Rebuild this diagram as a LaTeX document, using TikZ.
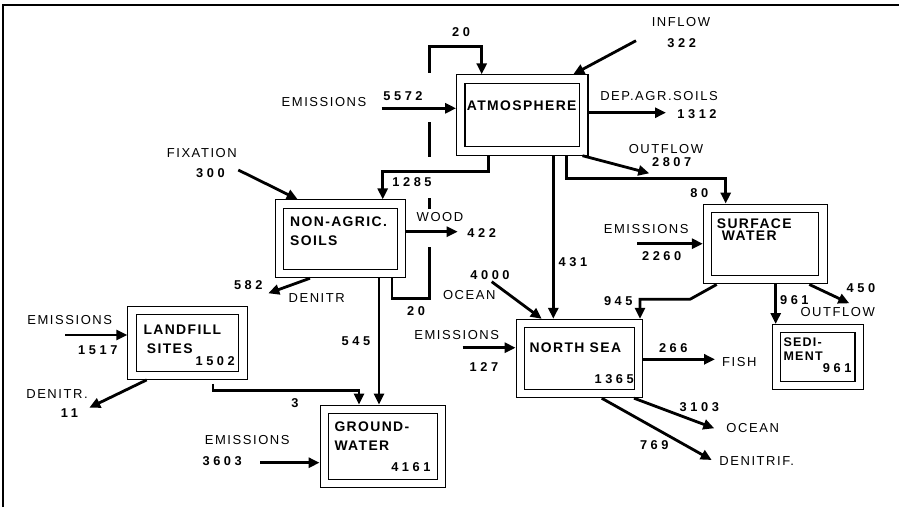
\documentclass[tikz,border=0pt]{standalone}
\usepackage{fontspec}
\setmainfont{Liberation Sans}
\newfontfamily\lblfont[LetterSpace=12]{Liberation Sans}
\newfontfamily\numfont[LetterSpace=28]{Liberation Sans}
\newfontfamily\boxfont[LetterSpace=10]{Liberation Sans}
\usepackage{tikz}
\usetikzlibrary{arrows.meta,positioning}

\begin{document}
\begin{tikzpicture}[
  x=1pt,y=-1pt,
  sbox/.style={draw, double, line width=1.1pt, double distance=7.2pt, inner sep=0pt, outer sep=4.7pt},
  flow/.style={line width=2.8pt, -{Triangle[length=11pt,width=10pt]}},
  pipe/.style={line width=2.8pt},
  lbl/.style={font=\lblfont\fontsize{13}{15}\selectfont, inner sep=0pt},
  num/.style={font=\numfont\bfseries\fontsize{12.8}{14}\selectfont, inner sep=0pt},
  ttl/.style={font=\boxfont\bfseries\fontsize{13.9}{15}\selectfont, inner sep=0pt, anchor=west}
]
\useasboundingbox (0,0) rectangle (899,514);
\draw[line width=1.2pt] (3,507) -- (3,5) -- (899,5);

\node[sbox, minimum width=123pt, minimum height=72pt] (atm) at (522.3,115) {};
\node[sbox, minimum width=122pt, minimum height=69.5pt] (soil) at (340.7,238.8) {};
\node[sbox, minimum width=111pt, minimum height=65pt] (lfill) at (187.5,342.7) {};
\node[sbox, minimum width=117.5pt, minimum height=74pt] (gw) at (383,446.3) {};
\node[sbox, minimum width=118pt, minimum height=70pt] (nsea) at (579.3,358.5) {};
\node[sbox, minimum width=115.5pt, minimum height=71.5pt] (surf) at (765.3,244) {};
\node[sbox, minimum width=82.8pt, minimum height=57pt] (sed) at (817.7,357.2) {};

\node[ttl, anchor=center] (atm-t) at (521.7,106) {ATMOSPHERE};
\node[ttl] (soil-t1) at (290,221.7) {NON-AGRIC.};
\node[ttl] (soil-t2) at (290,240.7) {SOILS};
\node[ttl] (lfill-t1) at (143.3,329.3) {LANDFILL};
\node[ttl] (lfill-t2) at (146.7,348.3) {SITES};
\node[num, anchor=east] (lfill-n) at (235,361) {1502};
\node[ttl] (gw-t1) at (334.3,426.7) {GROUND-};
\node[ttl] (gw-t2) at (334.3,446) {WATER};
\node[num, anchor=east] (gw-n) at (430.7,466.7) {4161};
\node[ttl] (nsea-t) at (529.3,347.7) {NORTH SEA};
\node[num, anchor=east] (nsea-n) at (634,379) {1365};
\node[ttl] (surf-t1) at (716.7,223.3) {SURFACE};
\node[ttl] (surf-t2) at (721.7,236) {WATER};
\node[ttl, font=\boxfont\bfseries\fontsize{12.5}{14}\selectfont] (sed-t1) at (783.3,341.7) {SEDI-};
\node[ttl, font=\boxfont\bfseries\fontsize{12.5}{14}\selectfont] (sed-t2) at (783.3,355.7) {MENT};
\node[num, anchor=east] (sed-n) at (851.7,368.3) {961};

\coordinate (emis1) at (381.7,108.3);
\coordinate (inflow) at (636,40.7);
\coordinate (dep) at (666,112.7);
\coordinate (outfl1) at (649.3,173.3);
\coordinate (fix) at (238.3,170);
\coordinate (wood) at (457.7,231.7);
\coordinate (denit1) at (268.3,293.3);
\coordinate (emis2) at (65,335);
\coordinate (denit2) at (89.3,407.7);
\coordinate (emis3) at (260,462.7);
\coordinate (ocean1) at (491.7,281.7);
\coordinate (emis4) at (462.7,347.7);
\coordinate (emis5) at (637,243.7);
\coordinate (bend945) at (690,299.3);
\coordinate (outfl2) at (849.3,303.3);
\coordinate (fish) at (715,359.3);
\coordinate (ocean2) at (714.3,428.3);
\coordinate (denit3) at (711.7,460);
\coordinate (p1) at (429.5,246.7);
\coordinate (p2) at (429.5,209);
\coordinate (p3) at (429.5,197.7);
\coordinate (p4) at (429.5,156.7);
\coordinate (p5) at (429.5,121.7);
\coordinate (p6) at (429.5,72.7);
\coordinate (a431) at ([xshift=31pt]atm.south);
\coordinate (s545) at ([xshift=38.3pt]soil.south);
\coordinate (s961) at ([xshift=10.4pt]surf.south);

\draw[flow] (emis1) -- (emis1 -| atm.west);
\draw[flow] (inflow) -- ([xshift=51pt]atm.north);
\draw[flow] (dep -| atm.east) -- (dep);
\draw[flow] ([xshift=-6pt]atm.south east) -- (outfl1);
\draw[flow] ([xshift=-34pt]atm.south) -- ++(0,16) -| ([xshift=42pt]soil.north);
\draw[flow] (a431) -- (a431 |- nsea.north);
\draw[flow] ([xshift=44.4pt]atm.south) -- ++(0,22.7) -| ([xshift=-39.6pt]surf.north);
\draw[pipe] ([xshift=51.3pt]soil.south) -- ++(0,20) -| (p1);
\draw[pipe] (p2) -- (p3);
\draw[pipe] (p4) -- (p5);
\draw[flow] (p6) -- ++(0,-26) -| ([xshift=-40.6pt]atm.north);
\draw[flow] (fix) -- ([xshift=-43pt]soil.north);
\draw[flow] (wood -| soil.east) -- (wood);
\draw[flow] ([xshift=-30.7pt]soil.south) -- (denit1);
\draw[flow] (s545) -- (s545 |- gw.north);
\draw[flow] (emis2) -- (emis2 -| lfill.west);
\draw[flow] ([xshift=-40.8pt]lfill.south) -- (denit2);
\draw[flow] ([xshift=25.5pt,yshift=-4pt]lfill.south) -- ++(0,6.5) -| ([xshift=-24pt]gw.north);
\draw[flow] (emis3) -- (emis3 -| gw.west);
\draw[flow] (ocean1) -- ([xshift=-37.6pt]nsea.north);
\draw[flow] (emis4) -- (emis4 -| nsea.west);
\draw[flow] (emis5) -- (emis5 -| surf.west);
\draw[flow] ([xshift=-48.6pt]surf.south) -- (bend945) -| ([xshift=-3pt]nsea.north east);
\draw[flow] (s961) -- (s961 |- sed.north);
\draw[flow] ([xshift=44pt]surf.south) -- (outfl2);
\draw[flow] (fish -| nsea.east) -- (fish);
\draw[flow] ([xshift=-9pt]nsea.south east) -- (ocean2);
\draw[flow] ([xshift=22.4pt]nsea.south) -- (denit3);

\node[lbl] (l-emis1) at (324,102.5) {EMISSIONS};
\node[num] (n-5572) at (403,96) {5572};
\node[num] (n-20a) at (461,32.3) {20};
\node[lbl] (l-inflow) at (681,21.7) {INFLOW};
\node[num] (n-322) at (681.7,43.3) {322};
\node[lbl] (l-dep) at (659,96) {DEP.AGR.SOILS};
\node[num] (n-1312) at (697,114.3) {1312};
\node[lbl] (l-outfl1) at (666,149.3) {OUTFLOW};
\node[num] (n-2807) at (671.7,161.7) {2807};
\node[num] (n-1285) at (412,181.7) {1285};
\node[num] (n-80) at (699.3,193.3) {80};
\node[lbl] (l-fix) at (201.8,152.7) {FIXATION};
\node[num] (n-300) at (210.5,172.7) {300};
\node[lbl] (l-wood) at (440,216.7) {WOOD};
\node[num] (n-422) at (481.7,232.7) {422};
\node[num] (n-431) at (573,262) {431};
\node[num] (n-582) at (248.3,285) {582};
\node[lbl] (l-denit1) at (316.7,298.3) {DENITR};
\node[num] (n-20b) at (416,311) {20};
\node[num] (n-4000) at (490,275) {4000};
\node[lbl] (l-ocean1) at (469.3,295) {OCEAN};
\node[lbl] (l-emis4) at (456.7,335) {EMISSIONS};
\node[num] (n-127) at (484,367.3) {127};
\node[num] (n-545) at (356,341) {545};
\node[lbl] (l-emis2) at (69.7,320) {EMISSIONS};
\node[num] (n-1517) at (97.8,350) {1517};
\node[lbl] (l-denit2) at (57,394.3) {DENITR.};
\node[num] (n-11) at (69.5,413.3) {11};
\node[num] (n-3) at (295,402.7) {3};
\node[lbl] (l-emis3) at (247.2,440) {EMISSIONS};
\node[num] (n-3603) at (222.2,460.7) {3603};
\node[lbl] (l-emis5) at (646.2,229) {EMISSIONS};
\node[num] (n-2260) at (661.7,256) {2260};
\node[num] (n-945) at (618.3,301) {945};
\node[num] (n-961) at (794.3,300) {961};
\node[num] (n-450) at (861,288.3) {450};
\node[lbl] (l-outfl2) at (837.7,312.3) {OUTFLOW};
\node[num] (n-266) at (673.3,347.7) {266};
\node[lbl] (l-fish) at (739.3,361.7) {FISH};
\node[num] (n-3103) at (699.3,406.7) {3103};
\node[lbl] (l-ocean2) at (752.7,427.7) {OCEAN};
\node[num] (n-769) at (654.3,445) {769};
\node[lbl] (l-denit3) at (756.7,461) {DENITRIF.};
\end{tikzpicture}
\end{document}
